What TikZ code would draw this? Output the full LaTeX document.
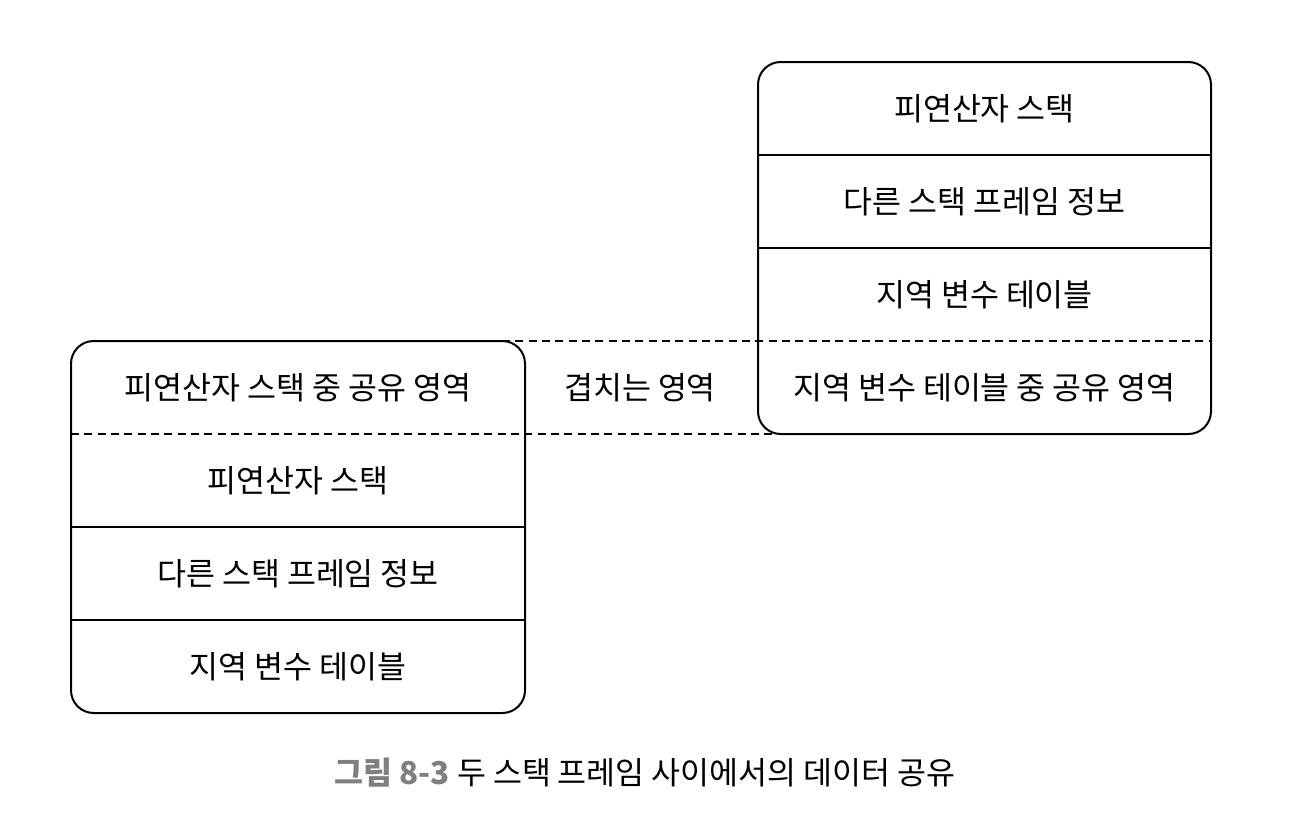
\documentclass[tikz,border=0pt]{standalone}
\usepackage{fontspec}
\setmainfont{Noto Sans CJK KR}
\definecolor{capgray}{HTML}{7F7F7F}
\begin{document}
\begin{tikzpicture}[x=0.75pt, y=-0.75pt,
  every node/.style={font=\fontsize{23.6}{28}\selectfont, inner sep=0pt},
  frame/.style={line width=1.5pt, rounded corners=17pt},
  rule/.style={line width=1.1pt},
  overlap/.style={line width=1.1pt, dash pattern=on 6pt off 4pt}]
  \useasboundingbox (0,0) rectangle (1292,836);
  % right frame (upper)
  \coordinate (RA) at (758,62);  \coordinate (RB) at (1211,434);
  \coordinate (R1) at (758,155); \coordinate (R1e) at (1211,155);
  \coordinate (R2) at (758,248); \coordinate (R2e) at (1211,248);
  % left frame (lower)
  \coordinate (LA) at (71,341);  \coordinate (LB) at (525,713);
  \coordinate (L1) at (71,527);  \coordinate (L1e) at (525,527);
  \coordinate (L2) at (71,620);  \coordinate (L2e) at (525,620);
  % overlap bounds
  \coordinate (OTs) at (502,341); \coordinate (OTe) at (1211,341);
  \coordinate (OBs) at (71,434);  \coordinate (OBe) at (781,434);
  \draw[frame] (RA) rectangle (RB);
  \draw[frame] (LA) rectangle (LB);
  \draw[rule] (R1)--(R1e) (R2)--(R2e);
  \draw[rule] (L1)--(L1e) (L2)--(L2e);
  \draw[overlap] (OTs)--(OTe);
  \draw[overlap] (OBs)--(OBe);
  \node (r1) at (984.5,108.5) {피연산자 스택};
  \node (r2) at (984.5,201.5) {다른 스택 프레임 정보};
  \node (r3) at (984.5,294.5) {지역 변수 테이블};
  \node (r4) at (984.5,387.5) {지역 변수 테이블 중 공유 영역};
  \node (l1) at (298,387.5) {피연산자 스택 중 공유 영역};
  \node (l2) at (298,480.5) {피연산자 스택};
  \node (l3) at (298,573.5) {다른 스택 프레임 정보};
  \node (l4) at (298,666.5) {지역 변수 테이블};
  \node (ov) at (640,387.5) {겹치는 영역};
  \node (cap) at (645,773) {{\bfseries\color{capgray}그림 8-3} 두 스택 프레임 사이에서의 데이터 공유};
\end{tikzpicture}
\end{document}
